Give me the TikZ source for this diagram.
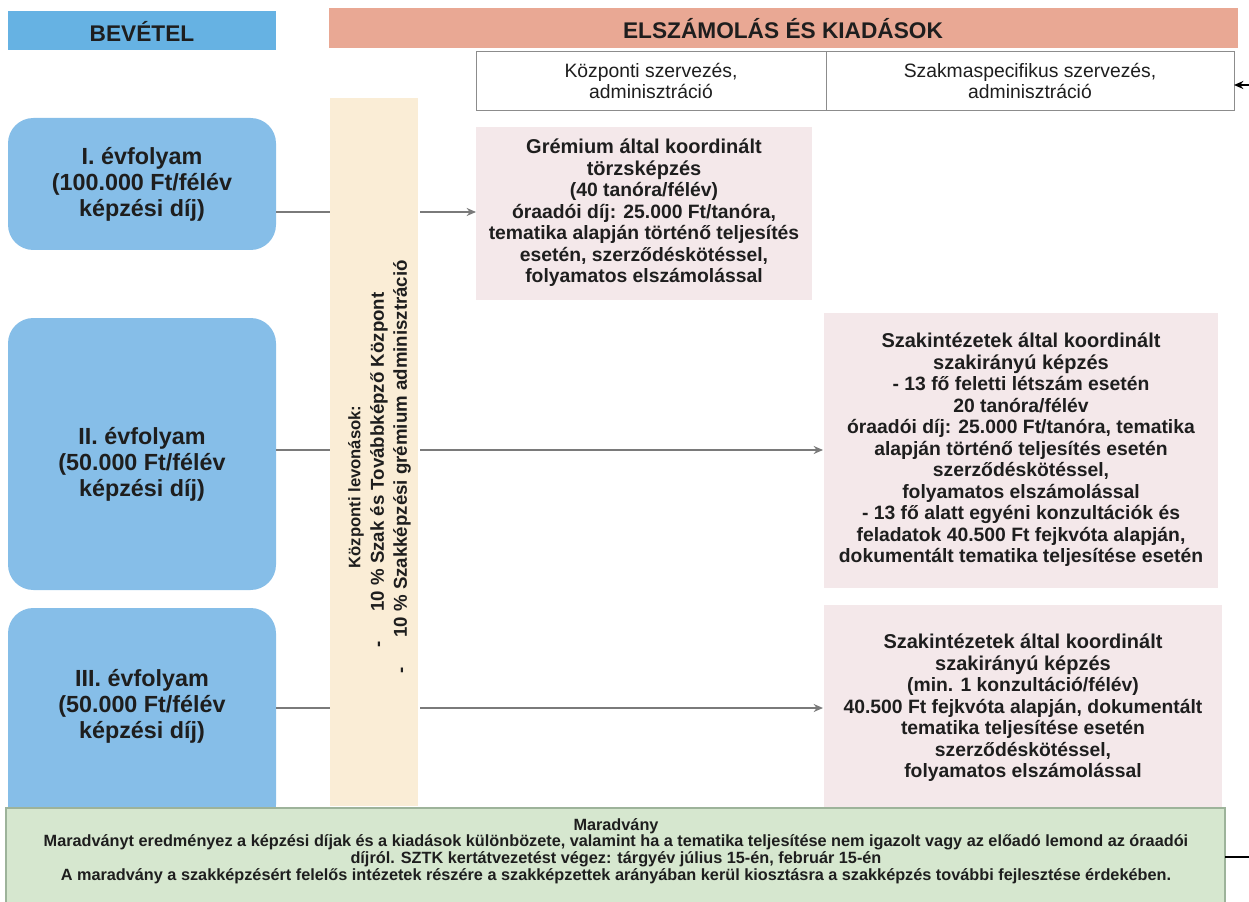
\documentclass[tikz,border=0pt]{standalone}
\usepackage{fontspec}
\setmainfont{Liberation Sans}
\usetikzlibrary{arrows.meta}
\definecolor{headblue}{HTML}{66B2E3}
\definecolor{boxblue}{HTML}{86BEE8}
\definecolor{salmon}{HTML}{E9A894}
\definecolor{beige}{HTML}{FAEDD6}
\definecolor{pinkbox}{HTML}{F4E8EA}
\definecolor{greenbox}{HTML}{D6E7CF}
\definecolor{greenline}{HTML}{9DB39A}
\definecolor{txt}{HTML}{1E1E1E}
\definecolor{conn}{HTML}{7A7A7A}
\begin{document}
\begin{tikzpicture}[x=0.75pt,y=-0.75pt,
  every node/.style={text=txt},
  header/.style={draw=none, inner sep=0pt, font=\fontsize{17}{20}\selectfont\bfseries},
  colhead/.style={inner sep=0pt, align=center, font=\fontsize{14.5}{15.75}\selectfont},
  yeartext/.style={inner sep=0pt, align=center, font=\fontsize{17.5}{19.5}\selectfont\bfseries},
  costtext/.style={inner sep=0pt, align=center, font=\fontsize{14.5}{16.1}\selectfont\bfseries},
  striptext/.style={rotate=90, inner sep=0pt, font=\fontsize{14}{16}\selectfont\bfseries},
  feed/.style={draw=conn, line width=1.4pt},
  arr/.style={draw=conn, line width=1.4pt, -{Stealth[length=7pt,width=6pt]}}
]
\useasboundingbox (0,0) rectangle (1249,902);

% headers
\path[fill=headblue] (8,11) rectangle (276,50);
\node[header] (bev) at (142,31) {BEVÉTEL};
\path[fill=salmon] (329,8) rectangle (1238,48);
\node[header] (elsz) at (783,29) {ELSZÁMOLÁS ÉS KIADÁSOK};

% column header boxes
\draw[draw=black!45, fill=white, line width=0.6pt] (476,51) rectangle (826,110);
\node[colhead] (kozp) at (651,81) {Központi szervezés,\\adminisztráció};
\draw[draw=black!45, fill=white, line width=0.6pt] (826,51) rectangle (1234,110);
\node[colhead] (szak) at (1030,81) {Szakmaspecifikus szervezés,\\adminisztráció};
\coordinate (szakE) at (1234,85);
\coordinate (rightA) at (1249,85);
\draw[black, line width=1.2pt, -{Stealth[length=7pt,width=6pt]}] (rightA) -- (szakE);

% year boxes
\path[fill=boxblue, rounded corners=19pt] (8,118) rectangle (276,250);
\node[yeartext] (y1) at (142,184) {I. évfolyam\\(100.000 Ft/félév\\képzési díj)};
\path[fill=boxblue, rounded corners=19pt] (8,318) rectangle (276,590);
\node[yeartext] (y2) at (142,464) {II. évfolyam\\(50.000 Ft/félév\\képzési díj)};
\path[fill=boxblue, rounded corners=19pt] (8,608) rectangle (276,830);
\node[yeartext] (y3) at (142,706) {III. évfolyam\\(50.000 Ft/félév\\képzési díj)};

% strip
\path[fill=beige] (330,98) rectangle (418,806);
\node[striptext, font=\fontsize{12.5}{14}\selectfont\bfseries] (s1) at (356,487) {Központi levonások:};
\node[striptext, anchor=west] (s2) at (379,648) {-\hspace{1.6em}10 \% Szak és Továbbképző Központ};
\node[striptext, anchor=west] (s3) at (402,674) {-\hspace{1.6em}10 \% Szakképzési grémium adminisztráció};
\coordinate (stripL1) at (330,212);
\coordinate (stripR1) at (420,212);
\coordinate (stripL2) at (330,450);
\coordinate (stripR2) at (420,450);
\coordinate (stripL3) at (330,708);
\coordinate (stripR3) at (420,708);

% cost boxes
\path[fill=pinkbox] (476,127) rectangle (812,300);
\node[costtext] (c1) at (644,213) {\fontsize{15}{16.1}\selectfont Grémium által koordinált\\\fontsize{15}{16.1}\selectfont törzsképzés\\(40 tanóra/félév)\\óraadói díj: 25.000 Ft/tanóra,\\tematika alapján történő teljesítés\\esetén, szerződéskötéssel,\\folyamatos elszámolással};
\path[fill=pinkbox] (824,313) rectangle (1218,588);
\node[costtext] (c2) at (1021,450) {\fontsize{15}{16.1}\selectfont Szakintézetek által koordinált\\\fontsize{15}{16.1}\selectfont szakirányú képzés\\- 13 fő feletti létszám esetén\\20 tanóra/félév\\óraadói díj: 25.000 Ft/tanóra, tematika\\alapján történő teljesítés esetén\\szerződéskötéssel,\\folyamatos elszámolással\\- 13 fő alatt egyéni konzultációk és\\feladatok 40.500 Ft fejkvóta alapján,\\dokumentált tematika teljesítése esetén};
\path[fill=pinkbox] (824,605) rectangle (1222,815);
\node[costtext] (c3) at (1023,708) {\fontsize{15}{16.1}\selectfont Szakintézetek által koordinált\\\fontsize{15}{16.1}\selectfont szakirányú képzés\\(min. 1 konzultáció/félév)\\40.500 Ft fejkvóta alapján, dokumentált\\tematika teljesítése esetén\\szerződéskötéssel,\\folyamatos elszámolással};

\coordinate (c1W) at (476,212);
\coordinate (c2W) at (823,450);
\coordinate (c3W) at (823,708);

% connectors
\coordinate (y1E) at (276,212);
\coordinate (y2E) at (276,450);
\coordinate (y3E) at (276,708);
\draw[feed] (y1E) -- (stripL1);
\draw[feed] (y2E) -- (stripL2);
\draw[feed] (y3E) -- (stripL3);
\draw[arr] (stripR1) -- (c1W);
\draw[arr] (stripR2) -- (c2W);
\draw[arr] (stripR3) -- (c3W);

% remainder box
\draw[fill=greenbox, draw=greenline, line width=0.8pt] (6,808) rectangle (1225,910);
\node[inner sep=0pt, align=center, font=\fontsize{12.2}{11.3}\selectfont\bfseries] (mar) at (616,851) {Maradvány\\Maradványt eredményez a képzési díjak és a kiadások különbözete, valamint ha a tematika teljesítése nem igazolt vagy az előadó lemond  az óraadói\\díjról. SZTK kertátvezetést végez: tárgyév július 15-én, február 15-én\\A maradvány a szakképzésért felelős intézetek részére a szakképzettek arányában kerül kiosztásra a szakképzés további fejlesztése érdekében.};
\coordinate (marE) at (1225,857);
\coordinate (rightB) at (1249,857);
\draw[black, line width=1.2pt] (marE) -- (rightB);
\end{tikzpicture}
\end{document}
